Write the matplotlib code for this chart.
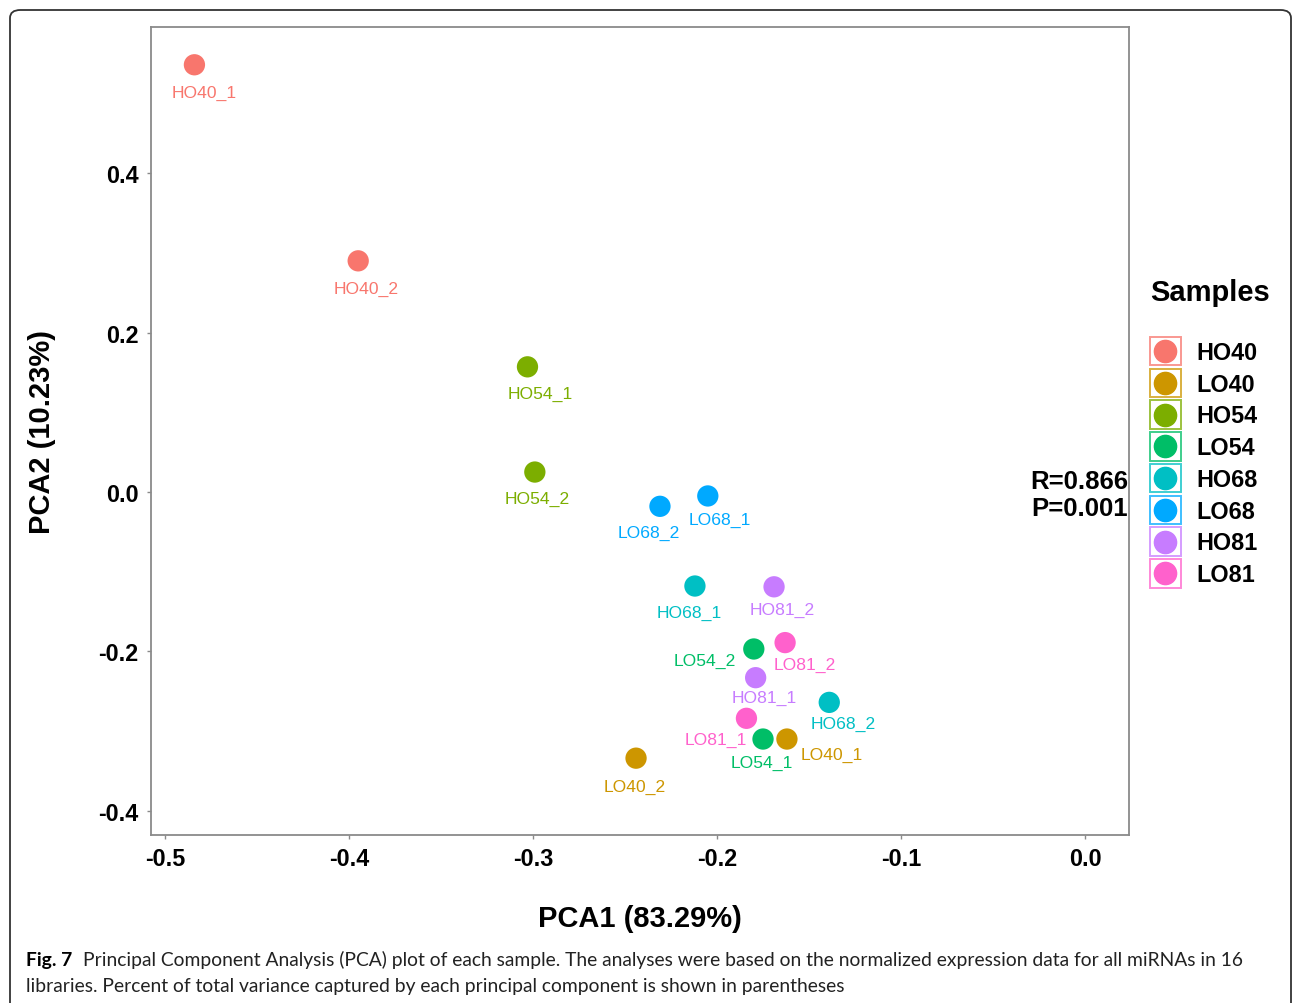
import matplotlib
matplotlib.use('Agg')
import matplotlib.pyplot as plt
from matplotlib.lines import Line2D
from matplotlib.patches import Rectangle, FancyBboxPatch
from matplotlib.legend_handler import HandlerBase

plt.rcParams['font.family'] = ['Liberation Sans', 'DejaVu Sans']

# PCA scores per library
samples = ['HO40_1', 'HO40_2', 'HO54_1', 'HO54_2', 'LO68_2', 'LO68_1',
           'HO68_1', 'HO81_2', 'LO54_2', 'LO81_2', 'HO81_1', 'HO68_2',
           'LO81_1', 'LO54_1', 'LO40_1', 'LO40_2']
pca1 = [-0.484, -0.395, -0.303, -0.299, -0.231, -0.205,
        -0.212, -0.169, -0.180, -0.163, -0.179, -0.139,
        -0.184, -0.175, -0.162, -0.244]
pca2 = [0.536, 0.290, 0.157, 0.025, -0.018, -0.005,
        -0.118, -0.119, -0.197, -0.189, -0.233, -0.264,
        -0.284, -0.310, -0.310, -0.334]

groups = ['HO40', 'LO40', 'HO54', 'LO54', 'HO68', 'LO68', 'HO81', 'LO81']
colors = ['#F8766D', '#CD9600', '#7CAE00', '#00BE67',
          '#00BFC4', '#00A9FF', '#C77CFF', '#FF61CC']
var1, var2 = 83.29, 10.23
r_stat, p_stat = 0.866, 0.001

# repel-style label offsets (points, x right / y down)
label_off = {'HO40_1': (7, 20), 'HO40_2': (6, 20), 'HO54_1': (9, 19),
             'HO54_2': (2, 19), 'LO68_2': (-8, 19), 'LO68_1': (9, 17),
             'HO68_1': (-4, 19), 'HO81_2': (6, 16), 'LO54_2': (-35, 8),
             'LO81_2': (14, 16), 'HO81_1': (6, 14), 'HO68_2': (10, 15),
             'LO81_1': (-22, 15), 'LO54_1': (-1, 17), 'LO40_1': (32, 11),
             'LO40_2': (-1, 20)}

W, H = 1295, 1004
fig = plt.figure(figsize=(W / 100, H / 100), dpi=100)
ax = fig.add_axes([151 / W, 1 - 836 / H, 978 / W, 808 / H])

handles = []
for g, c in zip(groups, colors):
    idx = [i for i, s in enumerate(samples) if s.startswith(g)]
    sc = ax.scatter([pca1[i] for i in idx], [pca2[i] for i in idx],
                    s=235, color=c, edgecolors='none', zorder=3, label=g)
    handles.append(sc)
    for i in idx:
        dx, dy = label_off[samples[i]]
        ax.annotate(samples[i], (pca1[i], pca2[i]), xytext=(dx, -dy),
                    textcoords='offset points', ha='center', va='center',
                    fontsize=12.6, color=c, zorder=4)

ax.set_xlim(-0.5076, 0.0239)
ax.set_ylim(-0.4304, 0.5834)
ax.set_xticks([-0.5, -0.4, -0.3, -0.2, -0.1, 0.0])
ax.set_yticks([-0.4, -0.2, 0.0, 0.2, 0.4])
ax.set_xticklabels(['-0.5', '-0.4', '-0.3', '-0.2', '-0.1', '0.0'])
ax.set_yticklabels(['-0.4', '-0.2', '0.0', '0.2', '0.4'])
ax.tick_params(length=3, width=1, color='#8a8a8a', labelsize=16.8, pad=6)
for lab in ax.get_xticklabels() + ax.get_yticklabels():
    lab.set_fontweight('bold')
for s in ax.spines.values():
    s.set_color('#8a8a8a')
    s.set_linewidth(1.3)

ax.set_xlabel(f'PCA1 ({var1:.2f}%)', fontsize=21, fontweight='bold')
ax.set_ylabel(f'PCA2 ({var2:.2f}%)', fontsize=21, fontweight='bold')
ax.xaxis.set_label_coords(0.5, -0.085)
ax.yaxis.set_label_coords(-0.097, 0.5)

ax.text(0.0235, 0.014, f'R={r_stat:.3f}', ha='right', va='center',
        fontsize=18.5, fontweight='bold', clip_on=False)
ax.text(0.0235, -0.020, f'P={p_stat:.3f}', ha='right', va='center',
        fontsize=18.5, fontweight='bold', clip_on=False)


class BoxedDot(HandlerBase):
    def create_artists(self, legend, orig_handle, xdescent, ydescent,
                       width, height, fontsize, trans):
        col = orig_handle.get_facecolor()[0]
        box = Rectangle((-xdescent, -ydescent), width, height,
                        facecolor='white', edgecolor=col, alpha=0.75,
                        lw=1.4, transform=trans)
        dot = Line2D([-xdescent + width / 2], [-ydescent + height / 2],
                     marker='o', markersize=16, color=col, ls='none',
                     transform=trans)
        return [box, dot]


leg = fig.legend(handles=handles, labels=groups,
                 handler_map={h: BoxedDot() for h in handles},
                 loc='upper left', bbox_to_anchor=(1150 / W, 1 - 338 / H),
                 frameon=False, borderpad=0, borderaxespad=0,
                 handlelength=1.32, handleheight=1.5, labelspacing=0.14,
                 handletextpad=0.68, prop={'size': 16.8, 'weight': 'bold'})
fig.text(1150 / W, 1 - 293 / H, 'Samples', fontsize=21, fontweight='bold',
         ha='left', va='center')

# caption
cap_font = ['Lato', 'DejaVu Sans']
t0 = fig.text(26 / W, 1 - 966 / H, 'Fig. 7', fontsize=13.85, fontweight='bold',
              family=cap_font, ha='left', va='baseline')
fig.canvas.draw()
bb = t0.get_window_extent()
fig.text((bb.x1 + 11) / W, 1 - 966 / H,
         'Principal Component Analysis (PCA) plot of each sample. The analyses were '
         'based on the normalized expression data for all miRNAs in 16',
         fontsize=13.85, family=cap_font, ha='left', va='baseline', color='#222222')
fig.text(26 / W, 1 - 992 / H,
         'libraries. Percent of total variance captured by each principal component '
         'is shown in parentheses',
         fontsize=13.85, family=cap_font, ha='left', va='baseline', color='#222222')

# rounded frame around the whole figure
frame = FancyBboxPatch((10 / W, -0.02), 1281 / W, 1 - 11 / H + 0.02,
                       boxstyle='round,pad=0,rounding_size=0.008',
                       transform=fig.transFigure, facecolor='none',
                       edgecolor='#333333', lw=1.3)
fig.add_artist(frame)

fig.savefig('out.png', dpi=100)
